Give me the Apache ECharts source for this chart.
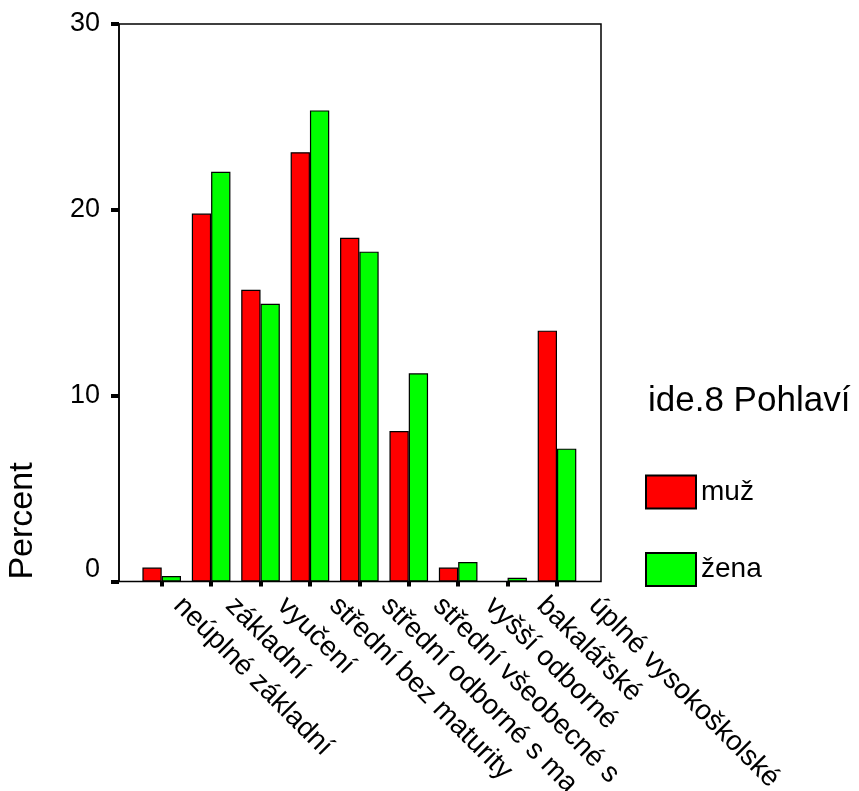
<!DOCTYPE html>
<html>
<head>
<meta charset="utf-8">
<script src="https://cdn.jsdelivr.net/npm/echarts@6/dist/echarts.min.js"></script>
<style>
html,body{margin:0;padding:0;background:#fff;}
#chart{width:859px;height:791px;}
</style>
</head>
<body>
<div id="chart"></div>
<script>
const categories = ['neúplné základní','základní','vyučení','střední bez maturity','střední odborné s ma','střední všeobecné s','vyšší odborné','bakalářské','úplné vysokoškolské'];
const muz = [0.75, 19.8, 15.7, 23.1, 18.5, 8.1, 0.75, 0, 13.5];
const zena = [0.3, 22.05, 14.95, 25.35, 17.75, 11.2, 1.05, 0.2, 7.15];
const seriesNames = ['muž', 'žena'];
const yTicks = [0, 10, 20, 30];
const axisTitle = 'Percent';
const legendTitle = 'ide.8 Pohlaví';

const FONT = "'Liberation Sans', Arial, sans-serif";
const chart = echarts.init(document.getElementById('chart'), null, {renderer: 'canvas'});

const option = {
  backgroundColor: '#ffffff',
  animation: false,
  grid: [
    {left: 119, top: 24, width: 482, height: 557.5, show: true, borderColor: '#000', borderWidth: 1.5, backgroundColor: 'transparent', outerBoundsMode: 'none'},
    {left: 137, top: 24, width: 444.7, height: 557.5, outerBoundsMode: 'none'},
    {left: 140, top: 24, width: 467.1, height: 557.5, outerBoundsMode: 'none'}
  ],
  xAxis: [
    {gridIndex: 0, type: 'value', show: false, min: 0, max: 1},
    {
      gridIndex: 1, type: 'category', data: categories, boundaryGap: true,
      axisLine: {show: false},
      axisTick: {show: true, interval: 0, alignWithLabel: true, length: 5, lineStyle: {color: '#000', width: 4}},
      axisLabel: {show: false, interval: 0}
    },
    {
      gridIndex: 2, type: 'category', data: categories, boundaryGap: true,
      axisLine: {show: false}, axisTick: {show: false},
      axisLabel: {interval: 0, rotate: -45, margin: 8, padding: [0, 0, 0, 17], color: '#000', fontFamily: FONT, fontSize: 28}
    }
  ],
  yAxis: [
    {
      gridIndex: 0, type: 'value', min: yTicks[0], max: yTicks[yTicks.length - 1], interval: 10,
      splitLine: {show: false},
      axisLine: {show: true, lineStyle: {color: '#000', width: 1.5}},
      axisTick: {show: true, length: 8, lineStyle: {color: '#000', width: 4}},
      axisLabel: {
        margin: 19, color: '#000', fontFamily: FONT, fontSize: 27,
        formatter: function (v) { return v === 0 ? '{z|0}' : String(v); },
        rich: {z: {fontFamily: FONT, fontSize: 27, color: '#000', padding: [0, 0, 24, 0]}}
      }
    },
    {gridIndex: 1, type: 'value', min: 0, max: 30, show: false},
    {gridIndex: 2, type: 'value', min: 0, max: 30, show: false}
  ],
  legend: {
    orient: 'vertical', left: 645, top: 474.5, padding: 0, itemWidth: 50, itemHeight: 33, itemGap: 42.5,
    icon: 'rect',
    textStyle: {color: '#000', fontFamily: FONT, fontSize: 28},
    data: seriesNames
  },
  graphic: [
    {type: 'text', left: 648, top: 384, style: {text: legendTitle, fill: '#000', font: '35px ' + FONT}},
    {type: 'text', x: 23, y: 521, rotation: Math.PI / 2, style: {text: axisTitle, fill: '#000', font: '34px ' + FONT, align: 'center', verticalAlign: 'middle'}}
  ],
  series: [
    {name: seriesNames[0], type: 'bar', xAxisIndex: 1, yAxisIndex: 1, data: muz, barWidth: 19.3, barGap: '0%',
     itemStyle: {color: '#ff0000', borderColor: '#000', borderWidth: 1.2}},
    {name: seriesNames[1], type: 'bar', xAxisIndex: 1, yAxisIndex: 1, data: zena, barWidth: 19.3, barGap: '0%',
     itemStyle: {color: '#00ff00', borderColor: '#000', borderWidth: 1.2}}
  ]
};
chart.setOption(option);
</script>
</body>
</html>
